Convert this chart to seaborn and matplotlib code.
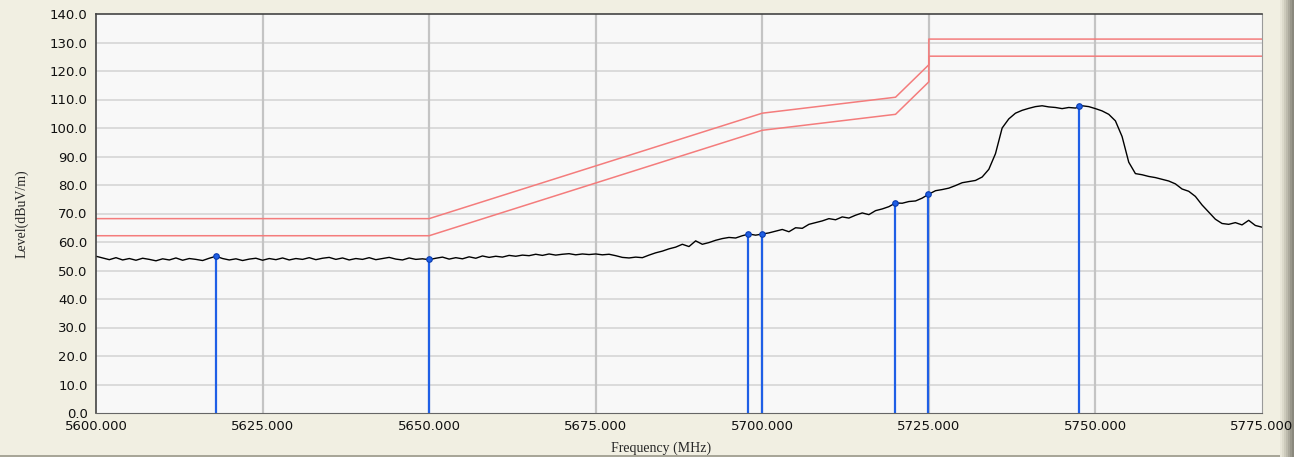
import numpy as np
import pandas as pd
import matplotlib
matplotlib.use("Agg")
import matplotlib.pyplot as plt
from matplotlib.patches import Rectangle
import seaborn as sns

# measured trace, 1 MHz steps from 5600 to 5775 MHz
freq = np.arange(5600, 5776)
level = [
    55.0, 54.4, 53.8, 54.5, 53.7, 54.2, 53.6, 54.3, 53.9, 53.4,
    54.1, 53.7, 54.4, 53.6, 54.2, 53.9, 53.5, 54.3, 55.0, 54.2,
    53.7, 54.1, 53.5, 54.0, 54.3, 53.6, 54.2, 53.8, 54.4, 53.7,
    54.2, 53.9, 54.5, 53.8, 54.3, 54.6, 53.9, 54.4, 53.7, 54.2,
    53.9, 54.5, 53.8, 54.2, 54.6, 54.0, 53.7, 54.4, 53.9, 54.1,
    53.8, 54.3, 54.7, 54.0, 54.5, 54.1, 54.8, 54.3, 55.1, 54.6,
    55.0, 54.7, 55.3, 55.0, 55.4, 55.2, 55.7, 55.3, 55.8, 55.4,
    55.7, 55.9, 55.5, 55.8, 55.6, 55.8, 55.5, 55.7, 55.2, 54.6,
    54.4, 54.7, 54.5, 55.4, 56.2, 56.8, 57.6, 58.2, 59.2, 58.4,
    60.4, 59.2, 59.8, 60.6, 61.2, 61.6, 61.4, 62.2, 62.8, 62.4,
    62.8, 63.2, 63.8, 64.4, 63.6, 65.0, 64.8, 66.2, 66.8, 67.4,
    68.2, 67.8, 68.8, 68.4, 69.4, 70.2, 69.6, 71.0, 71.6, 72.4,
    73.7, 73.6, 74.2, 74.4, 75.4, 76.8, 78.0, 78.4, 78.9, 79.8,
    80.8, 81.2, 81.6, 82.8, 85.5, 91.0, 100.0, 103.2, 105.2, 106.2,
    106.9, 107.5, 107.8, 107.4, 107.2, 106.8, 107.2, 107.0, 107.8, 107.5,
    106.8, 106.0, 104.8, 102.5, 97.0, 88.0, 84.0, 83.6, 83.0, 82.6,
    82.0, 81.4, 80.4, 78.6, 77.8, 76.0, 73.0, 70.5, 68.0, 66.5,
    66.2, 66.8, 66.0, 67.6, 65.8, 65.2,
]

# limit lines (peak / average)
lim_freq = [5600, 5650, 5700, 5720, 5725, 5725, 5775]
lim_peak = [68.2, 68.2, 105.2, 110.8, 122.2, 131.2, 131.2]
lim_avg = [62.2, 62.2, 99.2, 104.8, 116.2, 125.2, 125.2]

# marker readings
mk_freq = [5618.0, 5650.0, 5697.8, 5699.9, 5719.9, 5724.9, 5747.5]
mk_level = [55.0, 54.0, 62.9, 62.9, 73.7, 76.8, 107.8]

x_ticks = [5600, 5625, 5650, 5675, 5700, 5725, 5750, 5775]
y_ticks = list(range(0, 141, 10))

trace = pd.DataFrame({"freq": freq, "level": level})
limits = pd.DataFrame({"freq": lim_freq * 2,
                       "level": lim_peak + lim_avg,
                       "line": ["peak"] * 7 + ["avg"] * 7})

sns.set_style("white")
fig = plt.figure(figsize=(13.02, 4.59), dpi=100, facecolor="white")

# window background + frame shading
W, H = 1302, 459
fig.patches.append(Rectangle((0, 2 / H), 1293 / W, 1 - 2 / H, transform=fig.transFigure,
                             facecolor="#F1EFE2", edgecolor="none", zorder=-10))
fig.patches.append(Rectangle((0, 2 / H), 1293 / W, 2 / H, transform=fig.transFigure,
                             facecolor="#A8A698", edgecolor="none", zorder=-9))
for i, c in enumerate(["#E8E6D8", "#DCDACB", "#CDCBBC", "#BDBBAD", "#ABA99C",
                       "#99978B", "#8A887D"]):
    fig.patches.append(Rectangle(((1280 + i * 2) / W, 2 / H), 2 / W, 1 - 2 / H,
                                 transform=fig.transFigure, facecolor=c,
                                 edgecolor="none", zorder=-9))

ax = fig.add_axes([96 / W, 1 - 413 / H, (1262 - 96) / W, (413 - 14) / H])
ax.set_facecolor("#F8F8F8")

for y in y_ticks[1:-1]:
    ax.axhline(y, color="#D8D8D8", lw=1.3, zorder=0)
for x in x_ticks[1:-1]:
    ax.axvline(x, color="#C4C4C4", lw=1.6, zorder=0)

sns.lineplot(data=limits, x="freq", y="level", units="line", estimator=None,
             color="#F47C7C", lw=1.1, ax=ax, sort=False)
sns.lineplot(data=trace, x="freq", y="level", color="black", lw=1.0, ax=ax)

ax.vlines(mk_freq, 0, mk_level, color="#1F5FE6", lw=1.6, zorder=3)
sns.scatterplot(x=mk_freq, y=mk_level, color="#1F5FE6", s=16, edgecolor="#0A3CB0",
                linewidth=0.8, zorder=4, ax=ax)

ax.set_xlim(5600, 5775)
ax.set_ylim(0, 140)
ax.set_xticks(x_ticks)
ax.set_xticklabels([f"{v:.3f}" for v in x_ticks])
ax.set_yticks(y_ticks)
ax.set_yticklabels([f"{v:.1f}" for v in y_ticks])
ax.tick_params(axis="both", direction="out", length=4, width=1, color="#333333",
               labelsize=9.5, labelcolor="#111111", pad=1)
ax.tick_params(axis="y", pad=2)

for side in ["left", "top"]:
    ax.spines[side].set_color("#444444")
    ax.spines[side].set_linewidth(1.2)
ax.spines["bottom"].set_color("#666666")
ax.spines["right"].set_color("#9A9A9A")

ax.set_xlabel("Frequency (MHz)", family="Liberation Serif", fontsize=10)
ax.set_ylabel("Level(dBuV/m)", family="Liberation Serif", fontsize=10)
ax.xaxis.set_label_coords(0.485, -0.072)
ax.yaxis.set_label_coords(-0.058, 0.5)
ax.grid(False)

plt.savefig("out.png", dpi=100, facecolor=fig.get_facecolor())
